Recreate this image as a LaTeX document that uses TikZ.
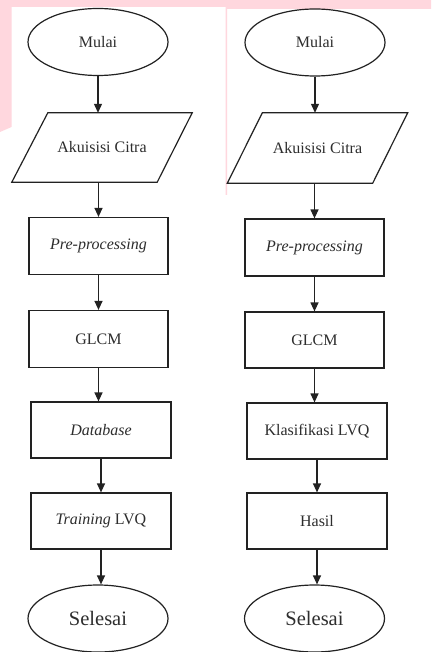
\documentclass[tikz,border=0pt]{standalone}
\usepackage{fontspec}
\setmainfont{Liberation Serif}
\usetikzlibrary{shapes.geometric,arrows.meta}
\definecolor{bgpink}{RGB}{255,215,222}
\definecolor{ink}{RGB}{34,34,34}
\definecolor{txt}{RGB}{45,45,45}
\tikzset{
  base/.style={inner sep=0pt, text=txt, font=\fontsize{16}{19}\selectfont},
  termbox/.style={base, ellipse, draw=ink, line width=1.2pt, minimum width=140pt, minimum height=67pt},
  endtext/.style={font=\fontsize{20.5}{24}\selectfont},
  procbox/.style={base, rectangle, draw=ink, line width=1.2pt, minimum width=139pt, minimum height=57pt},
  iobox/.style={base, rectangle, draw=none, minimum width=180pt, minimum height=69pt},
  para/.style={draw=ink, line width=1.2pt, line join=miter},
  flow/.style={draw=ink, line width=1.2pt, -{Triangle[width=8pt,length=9pt]}}
}
\begin{document}
\begin{tikzpicture}[x=1pt,y=-1pt]
\useasboundingbox (0,0) rectangle (431,652);
\fill[white] (0,0) rectangle (431,652);
% pink background remains
\fill[bgpink] (0,0) -- (431,0) -- (431,9) -- (227,9) -- (227,195) -- (225.5,195)
  -- (225.5,7) -- (11.5,7) -- (11.5,127) -- (0,132) -- cycle;

% left flow
\node[termbox] (m1) at (98,42) {Mulai};
\node[iobox] (p1) at (102,147.5) {Akuisisi Citra};
\draw[para] ([xshift=36pt]p1.north west) -- (p1.north east) -- ([xshift=-35pt]p1.south east) -- (p1.south west) -- cycle;
\node[procbox] (r1) at (98.5,246) {\itshape Pre-processing};
\node[procbox] (g1) at (98.5,339) {GLCM};
\node[procbox, minimum width=140pt, minimum height=56pt] (d1) at (101,430) {\itshape Database};
\node[procbox, minimum width=140pt, minimum height=56pt] (t1) at (101,521) {\textit{Training} LVQ};
\node[termbox, endtext] (s1) at (98,618.5) {Selesai};

\draw[flow] (m1.south) -- (m1.south |- p1.north);
\draw[flow] (r1.north |- p1.south) -- (r1.north);
\draw[flow] (r1.south) -- (g1.north);
\draw[flow] (g1.south) -- (g1.south |- d1.north);
\draw[flow] (d1.south) -- (t1.north);
\draw[flow] (t1.south) -- (t1.south |- s1.north);

% right flow
\node[termbox] (m2) at (315,42.5) {Mulai};
\node[iobox, minimum height=70pt] (p2) at (317.5,148) {Akuisisi Citra};
\draw[para] ([xshift=35pt]p2.north west) -- (p2.north east) -- ([xshift=-35pt]p2.south east) -- (p2.south west) -- cycle;
\node[procbox] (r2) at (314.5,247.5) {\itshape Pre-processing};
\node[procbox, minimum height=56pt] (g2) at (314.5,340) {GLCM};
\node[procbox, minimum width=140pt, minimum height=56pt] (k2) at (317,431) {Klasifikasi LVQ};
\node[procbox, minimum width=140pt, minimum height=56pt] (h2) at (317,521) {Hasil};
\node[termbox, endtext] (s2) at (314.5,618.5) {Selesai};

\draw[flow] (m2.south) -- (m2.south |- p2.north);
\draw[flow] (r2.north |- p2.south) -- (r2.north);
\draw[flow] (r2.south) -- (g2.north);
\draw[flow] (g2.south) -- (g2.south |- k2.north);
\draw[flow] (k2.south) -- (h2.north);
\draw[flow] (h2.south) -- (h2.south |- s2.north);
\end{tikzpicture}
\end{document}
